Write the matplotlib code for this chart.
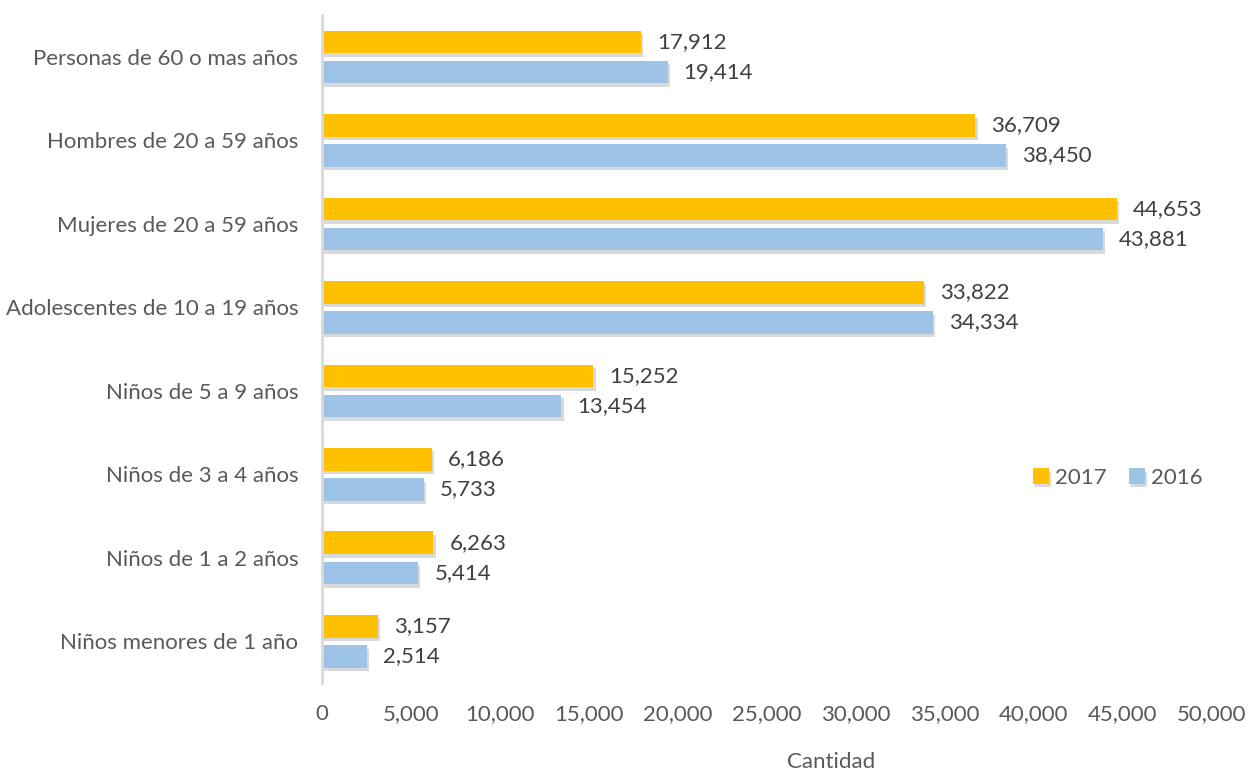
import matplotlib.pyplot as plt
import matplotlib.patheffects as pe
import numpy as np

plt.rcParams['font.family'] = ['Lato', 'DejaVu Sans']

# Data
categories = ['Personas de 60 o mas años', 'Hombres de 20 a 59 años', 'Mujeres de 20 a 59 años',
              'Adolescentes de 10 a 19 años', 'Niños de 5 a 9 años', 'Niños de 3 a 4 años',
              'Niños de 1 a 2 años', 'Niños menores de 1 año']
values_2017 = [17912, 36709, 44653, 33822, 15252, 6186, 6263, 3157]
values_2016 = [19414, 38450, 43881, 34334, 13454, 5733, 5414, 2514]
xticks = [0, 5000, 10000, 15000, 20000, 25000, 30000, 35000, 40000, 45000, 50000]

gray = '#595959'
fs = 16
fig = plt.figure(figsize=(12.5, 7.73), dpi=100)
ax = fig.add_axes([0.2576, 0.1164, 0.712, 0.864])

y = np.arange(len(categories))
h = 0.27
off = 0.18
shadow = [pe.SimplePatchShadow(offset=(1.5, -2.5), shadow_rgbFace='#000000', alpha=0.15), pe.Normal()]

ax.barh(y - off, values_2017, h, color='#FFC000', label='2017', path_effects=shadow)
ax.barh(y + off, values_2016, h, color='#9DC3E6', label='2016', path_effects=shadow)

for v, yy in zip(values_2017, y - off):
    ax.text(v + 900, yy, f'{v:,}', va='center', ha='left', fontsize=fs, color='#404040')
for v, yy in zip(values_2016, y + off):
    ax.text(v + 900, yy, f'{v:,}', va='center', ha='left', fontsize=fs, color='#404040')

ax.set_ylim(len(categories) - 0.5, -0.5)
ax.set_xlim(0, 50000)
ax.set_yticks(y)
ax.set_yticklabels(categories, fontsize=fs, color=gray)
ax.set_xticks(xticks)
ax.set_xticklabels([f'{t:,}' for t in xticks], fontsize=fs, color=gray)
ax.tick_params(length=0, axis='both')
ax.tick_params(axis='x', pad=15)
ax.tick_params(axis='y', pad=17)

for s in ['top', 'right', 'bottom']:
    ax.spines[s].set_visible(False)
ax.spines['left'].set_color('#D9D9D9')
ax.spines['left'].set_linewidth(2)

ax.set_xlabel('Cantidad', fontsize=fs, color=gray)
ax.xaxis.set_label_coords(0.572, -0.104)

ax.legend(loc='center right', bbox_to_anchor=(1.0, 0.307), frameon=False, fontsize=fs,
          labelcolor=gray, handlelength=0.7, handleheight=0.7, handletextpad=0.3,
          ncol=2, columnspacing=1.0, borderaxespad=0)

fig.savefig('out.png', dpi=100)
